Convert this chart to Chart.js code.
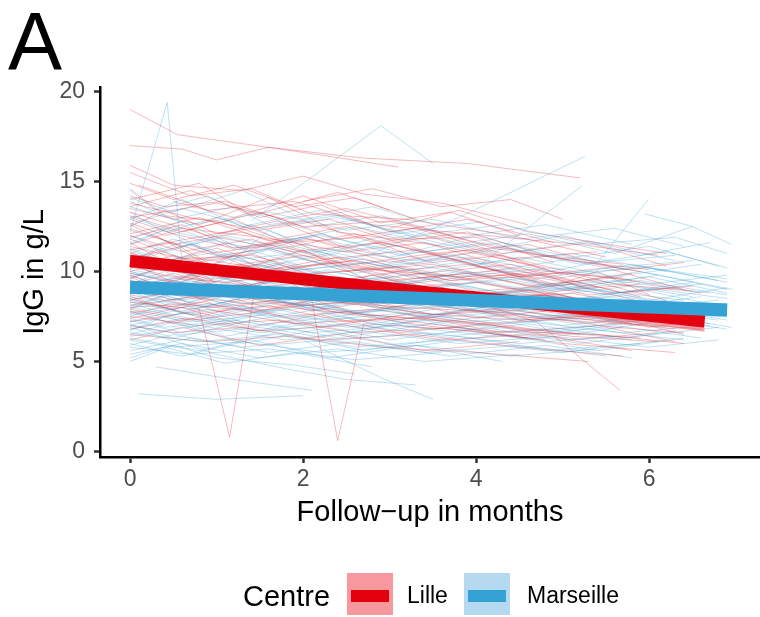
<!DOCTYPE html>
<html>
<head>
<meta charset="utf-8">
<script src="https://cdn.jsdelivr.net/npm/chart.js@4.4.1/dist/chart.umd.min.js"></script>
<style>
  body { margin: 0; background: #fff; }
  #wrap { position: relative; width: 760px; height: 617px; font-family: 'Liberation Sans', Arial, sans-serif; }
  #wrap canvas { position: absolute; left: 0; top: 0; }
  .txt { position: absolute; line-height: 1; white-space: nowrap; color: #000; }
  .key { position: absolute; top: 573px; width: 46px; height: 42px; }
  .key div { position: absolute; left: 4px; top: 17px; width: 38px; height: 12px; }
</style>
</head>
<body>
<div id="wrap">
  <canvas id="igg" width="760" height="617"></canvas>
  <div class="txt" style="left:8px; top:1px; font-size:81px;">A</div>
  <div class="txt" style="left:243px; top:582px; font-size:29px;">Centre</div>
  <div class="key" style="left:347px; background:#f7979e;"><div style="background:#e3000f;"></div></div>
  <div class="txt" style="left:407px; top:584px; font-size:23px;">Lille</div>
  <div class="key" style="left:464px; background:#b5d9ee;"><div style="background:#35a2d5;"></div></div>
  <div class="txt" style="left:527px; top:584px; font-size:23px;">Marseille</div>
</div>
<script>
// axis ticks
const xTicks = [0, 2, 4, 6];
const yTicks = [0, 5, 10, 15, 20];

// each patient: month, IgG, month, IgG, ...
const lilleSubjects = [
  [0, 19.0, 0.55, 17.6, 1.6, 16.9, 2.7, 16.3, 3.9, 16.0, 5.2, 15.2],
  [0, 17.0, 0.6, 16.8, 1.0, 16.2, 1.6, 16.9, 2.3, 16.4, 3.1, 15.8],
  [0, 15.9, 0.5, 14.8, 1.3, 14.5, 2.0, 15.3, 2.7, 14.3, 3.6, 13.8, 4.6, 12.6],
  [0, 15.5, 0.7, 14.2, 1.4, 14.6, 2.1, 13.2, 3.2, 12.9, 4.4, 12.0, 5.5, 10.8],
  [0, 14.2, 0.4, 13.6, 1.1, 13.9, 2.0, 12.5, 3.0, 12.8, 4.2, 11.4, 5.1, 10.6, 6.0, 10.1],
  [0, 13.5, 0.8, 12.6, 1.6, 14.1, 2.4, 12.2, 3.5, 11.5, 4.8, 10.2],
  [0, 12.9, 0.5, 12.1, 1.2, 11.3, 2.1, 11.8, 3.3, 10.4, 4.3, 10.9, 5.6, 9.3, 6.5, 8.9],
  [0, 12.3, 0.9, 11.0, 1.7, 11.5, 2.6, 10.2, 3.8, 9.7, 5.0, 9.9, 6.2, 8.4],
  [0, 11.8, 0.6, 10.7, 1.4, 10.9, 2.2, 9.9, 3.1, 10.3, 4.5, 9.0, 5.8, 8.1],
  [0, 11.2, 0.5, 11.6, 1.0, 10.2, 2.0, 9.6, 3.0, 9.1, 4.0, 9.4, 5.3, 8.2, 6.6, 7.4],
  [0, 10.8, 0.7, 9.9, 1.5, 10.4, 2.4, 9.3, 3.6, 8.8, 4.9, 8.3, 6.0, 7.6],
  [0, 10.3, 0.4, 9.8, 1.1, 9.4, 2.0, 9.9, 2.9, 8.7, 4.1, 8.2, 5.4, 7.7],
  [0, 9.9, 0.8, 9.1, 1.6, 8.6, 2.5, 9.0, 3.5, 8.1, 4.7, 7.4, 5.9, 7.0],
  [0, 9.5, 0.6, 8.9, 1.3, 9.3, 2.1, 8.4, 3.2, 8.0, 4.4, 7.7, 5.6, 6.9, 6.4, 6.6],
  [0, 9.1, 0.5, 8.4, 1.2, 8.7, 2.0, 7.9, 3.0, 7.5, 4.2, 7.0, 5.2, 6.5],
  [0, 8.7, 0.9, 8.0, 1.8, 8.3, 2.7, 7.6, 3.9, 7.2, 5.1, 6.4, 6.1, 6.1],
  [0, 8.3, 0.8, 7.9, 1.15, 0.8, 1.45, 9.2, 2.3, 7.8, 3.4, 7.0, 4.6, 6.3],
  [0, 7.9, 0.7, 7.3, 1.4, 7.7, 2.1, 8.4, 2.4, 0.6, 2.7, 7.1, 3.7, 6.8, 4.8, 6.2],
  [0, 7.5, 0.8, 7.0, 1.7, 7.3, 2.6, 6.6, 3.8, 6.9, 5.0, 6.0, 6.3, 5.5],
  [0, 7.0, 0.5, 6.6, 1.3, 6.9, 2.2, 6.2, 3.3, 6.5, 4.5, 5.8, 5.7, 5.3],
  [0, 6.5, 0.9, 6.1, 1.8, 6.4, 2.9, 5.8, 4.0, 5.5, 5.3, 5.0],
  [0, 13.0, 1.0, 13.8, 1.8, 12.9, 2.5, 13.5, 3.4, 12.4, 4.2, 11.3, 5.0, 10.7, 5.9, 10.0],
  [0.1, 14.8, 0.9, 13.4, 1.9, 13.9, 2.8, 12.6, 3.9, 12.1, 5.2, 11.5, 6.1, 10.9],
  [0, 11.5, 0.6, 12.4, 1.5, 11.9, 2.5, 11.1, 3.4, 11.6, 4.4, 10.2, 5.7, 9.6, 6.6, 8.8],
  [0, 10.0, 0.7, 10.8, 1.6, 10.1, 2.6, 10.6, 3.7, 9.5, 4.8, 9.8, 5.9, 8.6],
  [0, 9.3, 0.5, 9.9, 1.2, 9.0, 2.3, 9.5, 3.4, 8.9, 4.6, 8.5, 5.5, 7.9, 6.5, 7.2],
  [0, 8.8, 0.8, 9.4, 1.7, 8.7, 2.8, 8.2, 3.9, 8.6, 5.0, 7.8, 6.2, 7.5],
  [0, 8.0, 0.6, 8.2, 1.4, 7.8, 2.4, 8.3, 3.5, 7.6, 4.6, 7.9, 5.8, 7.1],
  [0, 7.2, 0.9, 7.9, 1.9, 7.1, 3.0, 7.4, 4.1, 6.7, 5.4, 6.5, 6.4, 6.0],
  [0, 12.6, 0.5, 11.5, 1.3, 12.2, 2.3, 10.7, 3.3, 11.2, 4.3, 10.0, 5.4, 9.1],
  [0, 13.8, 0.7, 13.0, 1.5, 12.3, 2.3, 12.9, 3.1, 11.8, 4.0, 11.9, 4.9, 10.5],
  [0, 10.6, 0.9, 9.6, 1.9, 10.0, 2.9, 9.2, 4.0, 8.4, 5.1, 8.8, 6.0, 8.0],
  [0, 9.7, 0.5, 8.7, 1.4, 8.2, 2.2, 8.8, 3.3, 7.7, 4.5, 7.3, 5.6, 7.6, 6.6, 6.9],
  [0, 11.0, 0.8, 10.3, 1.7, 9.7, 2.7, 10.1, 3.8, 8.9, 5.0, 8.6, 6.1, 7.9],
  [0, 12.0, 0.6, 11.1, 1.4, 11.8, 2.2, 10.6, 3.2, 9.8, 4.4, 10.4, 5.3, 9.0],
  [0, 8.5, 0.7, 7.6, 1.6, 8.1, 2.5, 7.2, 3.6, 7.5, 4.8, 6.7, 5.9, 6.3],
  [0.2, 11.4, 1.0, 12.1, 2.0, 12.8, 2.9, 11.5, 3.9, 12.2, 4.8, 10.9, 5.7, 10.4],
  [0, 14.6, 0.4, 13.1, 1.0, 12.8, 1.8, 11.6, 2.7, 11.9, 3.6, 10.8, 4.7, 9.5],
  [0, 9.0, 0.6, 9.6, 1.5, 9.2, 2.4, 8.5, 3.5, 9.0, 4.7, 8.1, 5.8, 8.4, 6.4, 7.8],
  [0, 7.7, 0.8, 8.3, 1.8, 7.5, 2.8, 7.9, 4.0, 7.1, 5.2, 7.4, 6.3, 6.8],
  [0, 10.9, 1.0, 10.2, 2.0, 10.9, 3.0, 10.0, 3.9, 10.4, 4.9, 9.2, 5.4, 10.0, 6.0, 8.7],
  [3.0, 12.4, 3.8, 13.4, 4.6, 12.2, 5.4, 11.6, 6.2, 11.0],
  [0, 6.8, 0.7, 7.4, 1.5, 6.7, 2.5, 7.0, 3.6, 6.2, 4.7, 6.5, 5.8, 5.6],
  [0, 13.3, 0.9, 12.0, 1.9, 11.1, 2.9, 11.6, 4.0, 10.6, 5.1, 9.4, 5.8, 9.9],
  [0, 8.1, 1.0, 8.8, 2.0, 8.1, 3.1, 8.5, 4.3, 7.9, 5.5, 7.2, 6.6, 6.8],
  [2.9, 9.8, 3.8, 8.6, 4.7, 7.2, 5.66, 3.4],
  [0, 14.0, 0.8, 14.9, 1.4, 13.1, 2.4, 14.4, 3.0, 13.4],
  [0.3, 12.0, 1.1, 9.8, 2.0, 11.2, 2.8, 9.4, 3.9, 9.9, 4.9, 8.9, 5.9, 9.3],
  [0, 10.1, 0.3, 11.2, 0.8, 9.6, 1.3, 10.4, 2.1, 9.1, 2.8, 9.8, 3.7, 8.6, 4.6, 9.0, 5.5, 7.7],
  [0, 12.7, 0.4, 12.0, 1.2, 12.9, 1.9, 11.4, 2.6, 12.1, 3.4, 10.6, 4.1, 11.2, 5.0, 9.8],
  [0, 9.6, 0.6, 10.6, 1.1, 9.0, 1.9, 9.7, 2.7, 8.3, 3.6, 9.1, 4.6, 8.0, 5.6, 8.3, 6.3, 7.1],
  [0, 11.6, 0.5, 10.3, 1.4, 11.0, 2.3, 9.4, 3.1, 10.0, 4.0, 8.9, 5.1, 9.3, 6.0, 8.2],
  [0, 8.9, 0.4, 9.3, 1.0, 8.1, 1.8, 8.9, 2.6, 7.7, 3.5, 8.4, 4.5, 7.3, 5.5, 7.6, 6.4, 6.5],
  [0, 13.6, 0.7, 14.5, 1.5, 13.0, 2.2, 13.7, 3.0, 12.2, 3.9, 12.9, 4.9, 11.6],
  [0, 10.5, 0.5, 9.4, 1.2, 10.9, 2.0, 9.0, 2.9, 9.5, 3.9, 8.4, 4.9, 8.8, 5.9, 7.5, 6.5, 7.9],
  [0, 7.4, 0.6, 8.0, 1.4, 6.9, 2.2, 7.6, 3.1, 6.6, 4.1, 7.1, 5.1, 6.2, 6.1, 6.6],
  [0, 12.1, 0.8, 13.0, 1.6, 11.7, 2.5, 12.5, 3.5, 11.0, 4.6, 11.5, 5.7, 10.1, 6.4, 10.5],
  [0, 9.8, 0.4, 9.1, 1.1, 10.2, 1.8, 8.8, 2.7, 9.6, 3.6, 8.4, 4.7, 9.0, 5.8, 7.8],
  [0.5, 13.9, 1.2, 13.0, 2.0, 14.2, 2.9, 12.7, 3.7, 13.3, 4.5, 12.0],
  [0, 11.9, 0.6, 12.6, 1.2, 11.3, 2.0, 11.9, 3.0, 10.5, 3.9, 11.2, 4.9, 10.0, 5.8, 9.5],
  [0, 8.6, 0.5, 7.9, 1.3, 8.9, 2.1, 7.8, 3.0, 8.5, 4.0, 7.4, 5.0, 7.9, 6.0, 6.9, 6.6, 7.3],
  [0, 10.7, 0.7, 11.5, 1.5, 10.0, 2.4, 10.8, 3.3, 9.6, 4.3, 10.1, 5.2, 8.9],
  [0, 14.9, 0.5, 14.0, 1.2, 14.8, 1.9, 13.6, 2.6, 14.1, 3.3, 12.9],
  [0, 9.2, 0.9, 9.9, 1.8, 8.6, 2.7, 9.3, 3.7, 8.2, 4.8, 8.7, 5.9, 7.7, 6.5, 8.0],
  [0, 7.8, 0.5, 7.1, 1.3, 8.1, 2.2, 6.9, 3.2, 7.6, 4.3, 6.6, 5.4, 7.0, 6.3, 6.1],
  [0, 12.5, 0.4, 13.4, 1.0, 12.1, 1.7, 12.8, 2.5, 11.3, 3.4, 12.0, 4.4, 10.7, 5.4, 11.1],
  [1.0, 10.6, 1.8, 11.8, 2.6, 10.4, 3.5, 11.0, 4.5, 9.7, 5.5, 10.2, 6.4, 9.0],
  [0, 11.4, 0.7, 10.6, 1.6, 11.3, 2.5, 10.0, 3.5, 10.4, 4.6, 9.2, 5.7, 9.7],
  [0, 6.2, 0.6, 6.9, 1.5, 5.9, 2.4, 6.5, 3.4, 5.6, 4.5, 6.1],
  [0, 13.1, 0.6, 12.2, 1.5, 13.3, 2.4, 11.8, 3.3, 12.4, 4.3, 11.0, 5.3, 11.6, 6.2, 10.3],
  [0, 10.2, 0.5, 10.9, 1.4, 9.8, 2.3, 10.5, 3.2, 9.3, 4.2, 9.9, 5.3, 8.7, 6.3, 9.1],
  [0, 9.4, 0.8, 8.6, 1.7, 9.6, 2.6, 8.4, 3.6, 9.0, 4.7, 7.9, 5.8, 8.3],
  [2.0, 13.9, 2.8, 14.6, 3.6, 13.6, 4.4, 14.0, 5.0, 12.9],
  [0, 11.1, 0.3, 10.4, 1.0, 11.3, 1.8, 10.1, 2.7, 10.7, 3.7, 9.5, 4.7, 10.0, 5.7, 8.8, 6.5, 9.2],
  [0, 8.4, 0.7, 9.1, 1.6, 8.0, 2.5, 8.7, 3.5, 7.6, 4.6, 8.1, 5.7, 7.2, 6.6, 7.5]
];

const marseilleSubjects = [
  [0, 12.2, 0.43, 19.4, 0.6, 10.5, 1.2, 10.9, 2.0, 10.1, 3.0, 10.6, 4.0, 9.8],
  [0.1, 3.2, 1.0, 2.9, 2.0, 3.1],
  [1.4, 12.8, 2.2, 15.6, 2.9, 18.1, 3.5, 16.0],
  [2.8, 11.0, 3.8, 13.0, 5.26, 16.4],
  [4.0, 10.2, 5.22, 14.75],
  [5.95, 13.2, 6.5, 12.5],
  [4.6, 9.8, 5.4, 10.5, 5.99, 14.0],
  [0, 14.1, 0.5, 13.3, 1.3, 14.5, 2.0, 12.9, 2.8, 13.6, 3.6, 12.5],
  [0, 13.0, 0.6, 12.1, 1.4, 11.3, 2.2, 12.0, 3.2, 11.0, 4.3, 11.6, 5.4, 10.5, 6.3, 10.9],
  [0, 11.5, 0.4, 12.3, 1.0, 10.9, 1.9, 11.4, 2.9, 10.3, 3.9, 10.8, 5.0, 9.9, 6.0, 10.2, 6.9, 9.6],
  [0, 10.6, 0.7, 9.8, 1.5, 10.3, 2.4, 9.4, 3.4, 9.9, 4.5, 9.0, 5.6, 9.5, 6.7, 8.8],
  [0, 10.0, 0.5, 9.3, 1.2, 9.7, 2.1, 9.0, 3.1, 9.4, 4.1, 8.6, 5.2, 9.1, 6.4, 8.4],
  [0, 9.5, 0.6, 8.8, 1.4, 9.2, 2.3, 8.5, 3.3, 8.9, 4.4, 8.2, 5.5, 8.6, 6.6, 7.9],
  [0, 9.0, 0.4, 8.4, 1.1, 8.8, 2.0, 8.1, 3.0, 8.5, 4.0, 7.8, 5.1, 8.3, 6.2, 7.6],
  [0, 8.6, 0.8, 8.0, 1.7, 8.4, 2.6, 7.7, 3.6, 8.1, 4.7, 7.5, 5.8, 7.9, 6.8, 7.3],
  [0, 8.2, 0.5, 7.6, 1.3, 8.0, 2.2, 7.3, 3.2, 7.7, 4.3, 7.1, 5.4, 7.5, 6.5, 7.0],
  [0, 7.8, 0.7, 7.2, 1.6, 7.6, 2.5, 6.9, 3.5, 7.3, 4.6, 6.7, 5.7, 7.1],
  [0, 7.4, 0.4, 6.9, 1.2, 7.3, 2.1, 6.6, 3.1, 7.0, 4.2, 6.4, 5.3, 6.8, 6.4, 6.2],
  [0, 7.0, 0.6, 6.5, 1.5, 6.9, 2.4, 6.2, 3.4, 6.6, 4.5, 6.0, 5.6, 6.4],
  [0, 6.6, 0.8, 6.1, 1.7, 6.5, 2.6, 5.8, 3.7, 6.2, 4.8, 5.6, 5.9, 6.0],
  [0, 6.2, 0.5, 5.8, 1.3, 6.1, 2.2, 5.5, 3.3, 5.9, 4.4, 5.3, 5.4, 5.7],
  [0, 5.8, 0.7, 5.4, 1.6, 5.7, 2.6, 5.1, 3.6, 5.5],
  [0, 5.0, 0.5, 5.9, 1.0, 5.2, 1.9, 4.8, 2.6, 4.3],
  [0, 6.9, 1.0, 5.4, 1.8, 4.6, 2.5, 4.0, 3.3, 3.7],
  [0.3, 4.7, 1.2, 4.0, 2.1, 3.4],
  [2.0, 6.2, 2.9, 4.1, 3.5, 2.9],
  [0, 12.6, 0.6, 13.5, 1.5, 12.4, 2.4, 13.0, 3.3, 12.0, 4.3, 12.6, 5.3, 11.5, 6.3, 11.9, 6.9, 11.0],
  [0, 11.0, 0.5, 11.8, 1.3, 10.7, 2.3, 11.2, 3.3, 10.6, 4.4, 11.3, 5.5, 10.2, 6.5, 10.6],
  [0, 10.3, 0.9, 11.0, 1.8, 10.0, 2.7, 10.5, 3.7, 9.7, 4.9, 10.2, 6.0, 9.3, 6.9, 9.8],
  [0, 9.7, 0.5, 10.4, 1.4, 9.5, 2.3, 10.0, 3.4, 9.1, 4.5, 9.6, 5.6, 8.8, 6.6, 9.3],
  [0, 9.2, 0.8, 9.9, 1.8, 8.9, 2.8, 9.4, 3.9, 8.6, 5.0, 9.1, 6.1, 8.3],
  [0, 8.8, 0.6, 9.4, 1.5, 8.5, 2.5, 9.0, 3.6, 8.2, 4.7, 8.7, 5.9, 8.0, 6.8, 8.4],
  [0, 8.4, 0.5, 9.0, 1.3, 8.2, 2.2, 8.7, 3.2, 7.9, 4.3, 8.3, 5.3, 7.6, 6.3, 8.1],
  [0, 8.0, 0.7, 8.6, 1.6, 7.8, 2.6, 8.2, 3.7, 7.5, 4.9, 8.0, 6.0, 7.3, 6.9, 7.7],
  [0, 7.6, 0.9, 8.2, 1.8, 7.4, 2.8, 7.9, 3.9, 7.2, 5.1, 7.6, 6.2, 6.9],
  [0, 7.2, 0.5, 7.8, 1.4, 7.0, 2.4, 7.5, 3.5, 6.8, 4.6, 7.2, 5.7, 6.6, 6.7, 7.0],
  [0, 6.8, 0.6, 7.4, 1.5, 6.6, 2.5, 7.1, 3.6, 6.4, 4.7, 6.8, 5.8, 6.2],
  [0, 6.4, 0.8, 7.0, 1.8, 6.2, 2.7, 6.7, 3.8, 6.0, 4.9, 6.4, 6.0, 5.8, 6.8, 6.2],
  [0, 5.9, 0.5, 6.5, 1.3, 5.8, 2.3, 6.2, 3.4, 5.5, 4.5, 5.9, 5.5, 5.3],
  [0, 13.6, 0.7, 12.6, 1.6, 13.3, 2.5, 12.3, 3.5, 12.9, 4.5, 11.8, 5.6, 12.4, 6.4, 11.4],
  [0, 12.0, 0.4, 11.2, 1.1, 11.9, 2.0, 10.8, 3.0, 11.5, 4.0, 10.4, 5.1, 11.0, 6.2, 10.0],
  [0.2, 10.8, 1.1, 12.0, 2.1, 11.0, 3.2, 12.3, 4.1, 11.2, 5.0, 12.0, 5.9, 10.9, 6.7, 11.6],
  [0, 9.4, 0.6, 8.6, 1.4, 9.9, 2.4, 8.8, 3.5, 9.6, 4.6, 8.5, 5.8, 9.2, 6.9, 8.5],
  [0, 8.9, 0.5, 8.0, 1.2, 9.1, 2.1, 7.9, 3.1, 8.9, 4.2, 7.8, 5.3, 8.6, 6.4, 7.7],
  [0, 8.3, 0.9, 7.5, 1.9, 8.5, 2.9, 7.4, 4.0, 8.3, 5.2, 7.3, 6.3, 8.0],
  [0, 7.7, 0.7, 6.9, 1.7, 7.9, 2.7, 6.8, 3.8, 7.7, 4.9, 6.7, 6.1, 7.4, 6.9, 6.8],
  [0, 7.1, 0.5, 6.3, 1.4, 7.3, 2.4, 6.3, 3.5, 7.1, 4.6, 6.2, 5.7, 6.9],
  [0, 6.3, 0.8, 5.6, 1.7, 6.6, 2.7, 5.6, 3.8, 6.4, 5.0, 5.5, 6.2, 6.2],
  [0, 11.8, 0.6, 12.8, 1.4, 11.0, 2.2, 12.1, 3.1, 10.9, 4.0, 12.0, 5.0, 10.7, 6.0, 11.4, 6.8, 10.3],
  [0, 10.4, 0.3, 11.3, 1.0, 10.0, 1.9, 10.8, 2.9, 9.8, 3.9, 10.6, 4.9, 9.6, 5.9, 10.3, 6.9, 9.4],
  [0, 13.3, 0.4, 12.2, 1.0, 13.0, 1.8, 11.7, 2.6, 12.5, 3.6, 11.4, 4.6, 12.1, 5.6, 11.0, 6.5, 12.5, 6.95, 11.5],
  [0, 5.4, 0.6, 6.0, 1.5, 5.2, 2.4, 5.7, 3.4, 5.0, 4.5, 5.4],
  [0, 9.9, 0.9, 9.1, 1.9, 10.2, 2.9, 9.0, 3.9, 10.0, 5.0, 9.0, 6.1, 9.8, 6.9, 9.0],
  [0, 8.1, 0.6, 8.9, 1.5, 7.6, 2.4, 8.6, 3.4, 7.4, 4.5, 8.4, 5.6, 7.2, 6.6, 8.0],
  [0, 14.5, 0.3, 13.4, 0.9, 14.2, 1.6, 12.6, 2.4, 13.1, 3.3, 11.9],
  [0, 11.2, 0.9, 9.4, 1.6, 12.3, 2.6, 10.1, 3.7, 11.0, 4.8, 9.2, 5.9, 10.0, 6.96, 9.0],
  [0, 9.3, 0.4, 10.0, 1.0, 8.7, 1.8, 9.6, 2.7, 8.5, 3.7, 9.3, 4.8, 8.2, 5.9, 9.0, 6.8, 8.1],
  [0, 8.5, 0.6, 7.7, 1.5, 8.8, 2.5, 7.6, 3.6, 8.4, 4.8, 7.4, 5.9, 8.1, 6.9, 7.3],
  [0, 7.5, 0.5, 8.3, 1.3, 7.2, 2.3, 8.0, 3.3, 7.0, 4.4, 7.7, 5.5, 6.8, 6.5, 7.5],
  [0, 10.9, 0.7, 10.1, 1.6, 11.2, 2.6, 9.9, 3.6, 10.7, 4.7, 9.6, 5.8, 10.4, 6.8, 9.5],
  [0, 6.7, 0.4, 7.5, 1.1, 6.4, 2.0, 7.2, 3.0, 6.2, 4.1, 6.9, 5.2, 6.0, 6.3, 6.7],
  [0, 12.4, 0.6, 11.4, 1.4, 12.6, 2.3, 11.1, 3.2, 12.0, 4.2, 10.9, 5.3, 11.7, 6.3, 10.6],
  [0, 8.0, 0.8, 7.3, 1.8, 8.3, 2.8, 7.1, 3.9, 7.9, 5.0, 7.0, 6.1, 7.6, 6.95, 6.9],
  [0, 9.8, 0.5, 9.0, 1.3, 10.3, 2.2, 9.1, 3.2, 9.8, 4.3, 8.8, 5.4, 9.5, 6.5, 8.6],
  [0, 5.6, 0.7, 6.3, 1.6, 5.5, 2.6, 6.1, 3.7, 5.3, 4.8, 5.9, 5.8, 5.2],
  [0, 11.6, 0.5, 12.5, 1.2, 11.2, 2.1, 12.0, 3.0, 10.8, 4.1, 11.6, 5.2, 10.4, 6.2, 11.1, 6.9, 10.2],
  [0, 7.3, 0.6, 6.6, 1.5, 7.6, 2.4, 6.5, 3.4, 7.3, 4.5, 6.3, 5.6, 7.0, 6.6, 6.3],
  [0, 10.1, 0.9, 9.3, 1.8, 10.5, 2.8, 9.2, 3.8, 10.0, 4.9, 9.0, 6.0, 9.7, 6.9, 8.8],
  [0, 8.7, 0.5, 9.5, 1.4, 8.4, 2.3, 9.2, 3.3, 8.1, 4.4, 8.9, 5.5, 7.9, 6.6, 8.6],
  [0, 6.0, 0.6, 5.3, 1.4, 6.2, 2.3, 5.2, 3.3, 5.9, 4.3, 5.0],
  [0.3, 9.0, 1.0, 10.1, 1.9, 8.9, 2.9, 9.7, 3.9, 8.6, 5.0, 9.4, 6.0, 8.4, 6.9, 9.1],
  [0, 13.9, 0.5, 12.9, 1.2, 13.6, 2.0, 12.4, 2.9, 13.1, 3.8, 11.9, 4.8, 12.6, 5.8, 11.5],
  [0, 7.9, 0.4, 8.7, 1.2, 7.5, 2.1, 8.3, 3.1, 7.3, 4.2, 8.1, 5.3, 7.1, 6.4, 7.8],
  [0, 9.1, 0.7, 8.3, 1.6, 9.4, 2.5, 8.2, 3.5, 9.0, 4.6, 8.0, 5.7, 8.7, 6.8, 7.9],
  [0, 6.5, 0.5, 7.2, 1.3, 6.0, 2.2, 6.8, 3.2, 5.8, 4.3, 6.5, 5.4, 5.6, 6.4, 6.3],
  [0, 10.7, 0.6, 11.6, 1.5, 10.3, 2.4, 11.0, 3.4, 9.9, 4.5, 10.8, 5.6, 9.7, 6.6, 10.4],
  [0, 8.9, 0.9, 8.1, 1.9, 9.2, 2.9, 7.9, 4.0, 8.7, 5.1, 7.7, 6.2, 8.4],
  [0, 7.0, 0.6, 7.7, 1.5, 6.7, 2.5, 7.4, 3.5, 6.5, 4.6, 7.1, 5.7, 6.3, 6.8, 6.9],
  [0, 11.3, 0.4, 10.5, 1.1, 11.6, 2.0, 10.3, 3.0, 11.1, 4.0, 9.9, 5.1, 10.7, 6.1, 9.8],
  [0, 12.9, 0.6, 14.0, 1.3, 12.5, 2.2, 13.4, 3.1, 12.1, 4.1, 12.8],
  [0, 8.4, 0.6, 7.8, 1.5, 8.7, 2.4, 7.5, 3.5, 8.2, 4.6, 7.2, 5.7, 7.9, 6.7, 7.1],
  [0, 9.6, 0.5, 10.5, 1.4, 9.3, 2.3, 10.1, 3.3, 8.9, 4.4, 9.7, 5.5, 8.7, 6.5, 9.4],
  [0, 5.2, 0.4, 5.8, 1.1, 4.9, 1.9, 5.5, 2.8, 4.7],
  [0, 10.0, 0.8, 9.2, 1.7, 10.4, 2.7, 9.0, 3.7, 9.8, 4.8, 8.8, 5.9, 9.5, 6.9, 8.7]
];

// fitted trends and their bands
const lilleTrendX = [0, 6.64];
const lilleTrendY = [10.58, 7.22];
const lilleBandX = [0, 3.32, 6.64];
const lilleBandLow = [10.2, 8.75, 6.65];
const lilleBandHigh = [10.95, 9.05, 7.6];

const marseilleTrendX = [0, 6.9];
const marseilleTrendY = [9.12, 7.86];
const marseilleBandX = [0, 3.45, 6.9];
const marseilleBandLow = [8.8, 8.35, 7.45];
const marseilleBandHigh = [9.45, 8.63, 8.25];

const FONT = "'Liberation Sans', Arial, sans-serif";

function pairs(flat) {
  const pts = [];
  for (let i = 0; i < flat.length; i += 2) pts.push({ x: flat[i], y: flat[i + 1] });
  return pts;
}
function zip(xs, ys) {
  return xs.map((x, i) => ({ x: x, y: ys[i] }));
}

const datasets = [];

// fitted lines on top
datasets.push({ data: zip(marseilleTrendX, marseilleTrendY), borderColor: '#35a2d5', borderWidth: 13, order: 0 });
datasets.push({ data: zip(lilleTrendX, lilleTrendY), borderColor: '#e3000f', borderWidth: 12, order: 1 });

// confidence bands
datasets.push({ data: zip(marseilleBandX, marseilleBandLow), borderWidth: 0, borderColor: 'rgba(0,0,0,0)', order: 3 });
datasets.push({ data: zip(marseilleBandX, marseilleBandHigh), borderWidth: 0, borderColor: 'rgba(0,0,0,0)', fill: '-1', backgroundColor: 'rgba(90,175,225,0.4)', order: 3 });
datasets.push({ data: zip(lilleBandX, lilleBandLow), borderWidth: 0, borderColor: 'rgba(0,0,0,0)', order: 4 });
datasets.push({ data: zip(lilleBandX, lilleBandHigh), borderWidth: 0, borderColor: 'rgba(0,0,0,0)', fill: '-1', backgroundColor: 'rgba(242,75,88,0.5)', order: 4 });

// individual patients, interleaved
const n = Math.max(lilleSubjects.length, marseilleSubjects.length);
for (let i = 0; i < n; i++) {
  if (lilleSubjects[i]) datasets.push({ data: pairs(lilleSubjects[i]), borderColor: 'rgba(225,25,40,0.3)', borderWidth: 1, order: 10 });
  if (marseilleSubjects[i]) datasets.push({ data: pairs(marseilleSubjects[i]), borderColor: 'rgba(60,165,215,0.33)', borderWidth: 1, order: 10 });
}

new Chart(document.getElementById('igg'), {
  type: 'line',
  data: { datasets: datasets },
  options: {
    responsive: false,
    animation: false,
    events: [],
    devicePixelRatio: 1,
    layout: { padding: { top: 87, right: 0, bottom: 80, left: 0 } },
    elements: { point: { radius: 0 }, line: { tension: 0, fill: false } },
    plugins: { legend: { display: false }, tooltip: { enabled: false } },
    scales: {
      x: {
        type: 'linear',
        min: -0.347,
        max: 7.28,
        afterBuildTicks: s => { s.ticks = xTicks.map(v => ({ value: v })); },
        afterFit: s => { s.height = 80; },
        grid: { drawOnChartArea: false, drawTicks: true, tickLength: 6, tickWidth: 2.5, tickColor: '#333' },
        border: { display: true, color: '#000', width: 2.5 },
        ticks: { color: '#4d4d4d', font: { size: 23, family: FONT }, padding: 3, maxRotation: 0 },
        title: { display: true, text: 'Follow−up in months', color: '#000', font: { size: 29, family: FONT }, padding: { top: 0, bottom: 7 } }
      },
      y: {
        type: 'linear',
        min: -0.305,
        max: 20.25,
        afterBuildTicks: s => { s.ticks = yTicks.map(v => ({ value: v })); },
        afterFit: s => { s.width = 100; },
        grid: { drawOnChartArea: false, drawTicks: true, tickLength: 6, tickWidth: 2.5, tickColor: '#333' },
        border: { display: true, color: '#000', width: 2.5 },
        ticks: { color: '#4d4d4d', font: { size: 23, family: FONT }, padding: 9 },
        title: { display: true, text: 'IgG in g/L', color: '#000', font: { size: 29, family: FONT }, padding: { top: 18, bottom: 0 } }
      }
    }
  }
});
</script>
</body>
</html>
